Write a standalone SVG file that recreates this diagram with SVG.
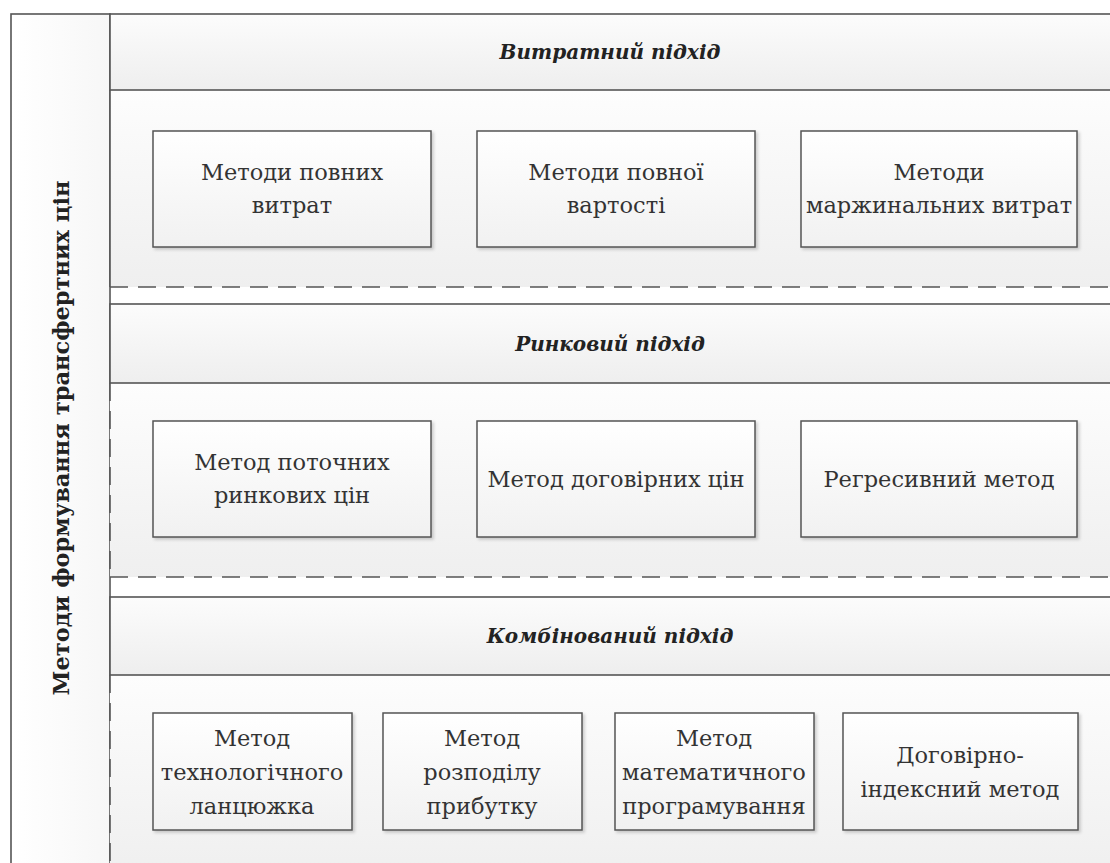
<svg xmlns="http://www.w3.org/2000/svg" width="1110" height="863" viewBox="0 0 1110 863">
  <defs>
    <linearGradient id="gHead" x1="0" y1="0" x2="0" y2="1">
      <stop offset="0" stop-color="#fcfcfc"/>
      <stop offset="1" stop-color="#eeeeee"/>
    </linearGradient>
    <linearGradient id="gBody" x1="0" y1="0" x2="0" y2="1">
      <stop offset="0" stop-color="#fdfdfd"/>
      <stop offset="1" stop-color="#efefef"/>
    </linearGradient>
    <linearGradient id="gBox" x1="0" y1="0" x2="0" y2="1">
      <stop offset="0" stop-color="#ffffff"/>
      <stop offset="1" stop-color="#f1f1f1"/>
    </linearGradient>
    <linearGradient id="gSide" x1="0" y1="0" x2="1" y2="0">
      <stop offset="0" stop-color="#ffffff"/>
      <stop offset="1" stop-color="#f7f7f7"/>
    </linearGradient>
    <filter id="shadow" x="-5%" y="-5%" width="115%" height="120%">
      <feDropShadow dx="2" dy="2" stdDeviation="1.5" flood-color="#000" flood-opacity="0.18"/>
    </filter>
  </defs>
  <style>
    .frame { stroke: #555; stroke-width: 1.6; }
    .dash { stroke: #555; stroke-width: 1.6; stroke-dasharray: 18 10; fill: none; }
    .box { fill: url(#gBox); stroke: #555; stroke-width: 1.5; filter: url(#shadow); }
    text { font-family: 'DejaVu Serif', serif; }
    .hdr { font-weight: bold; font-style: italic; font-size: 20px; fill: #222; text-anchor: middle; }
    .lbl { font-size: 22.5px; fill: #333; text-anchor: middle; }
    .side { font-weight: bold; font-size: 22.5px; fill: #222; text-anchor: middle; }
  </style>

  <rect width="1110" height="863" fill="#ffffff"/>

  <!-- left title column -->
  <g id="side-title">
    <rect x="11" y="14" width="99" height="860" fill="url(#gSide)" class="frame"/>
    <text class="side" transform="translate(69,438) rotate(-90)">Методи формування трансфертних цін</text>
  </g>

  <!-- cost-based approach -->
  <g id="band-cost">
    <rect x="110" y="90" width="1010" height="197" fill="url(#gBody)"/>
    <line x1="110" y1="90" x2="110" y2="287" class="frame"/>
    <line x1="110" y1="287" x2="1110" y2="287" class="dash"/>
    <rect x="110" y="14" width="1010" height="76" fill="url(#gHead)" class="frame"/>
    <text class="hdr" x="610" y="59">Витратний підхід</text>
  </g>
  <g id="cost-full">
    <rect class="box" x="153" y="131" width="278" height="116"/>
    <text class="lbl" x="292" y="180">Методи повних</text>
    <text class="lbl" x="292" y="213">витрат</text>
  </g>
  <g id="cost-total">
    <rect class="box" x="477" y="131" width="278" height="116"/>
    <text class="lbl" x="616" y="180">Методи повної</text>
    <text class="lbl" x="616" y="213">вартості</text>
  </g>
  <g id="cost-marginal">
    <rect class="box" x="801" y="131" width="276" height="116"/>
    <text class="lbl" x="939" y="180">Методи</text>
    <text class="lbl" x="939" y="213">маржинальних витрат</text>
  </g>

  <!-- market approach -->
  <g id="band-market">
    <rect x="110" y="383" width="1010" height="194" fill="url(#gBody)"/>
    <line x1="110" y1="383" x2="110" y2="577" class="dash"/>
    <line x1="110" y1="577" x2="1110" y2="577" class="dash"/>
    <rect x="110" y="304" width="1010" height="79" fill="url(#gHead)" class="frame"/>
    <text class="hdr" x="610" y="351">Ринковий підхід</text>
  </g>
  <g id="market-current">
    <rect class="box" x="153" y="421" width="278" height="116"/>
    <text class="lbl" x="292" y="470">Метод поточних</text>
    <text class="lbl" x="292" y="503">ринкових цін</text>
  </g>
  <g id="market-contract">
    <rect class="box" x="477" y="421" width="278" height="116"/>
    <text class="lbl" x="616" y="487">Метод договірних цін</text>
  </g>
  <g id="market-regressive">
    <rect class="box" x="801" y="421" width="276" height="116"/>
    <text class="lbl" x="939" y="487">Регресивний метод</text>
  </g>

  <!-- combined approach -->
  <g id="band-combined">
    <rect x="110" y="675" width="1010" height="200" fill="url(#gBody)"/>
    <line x1="110" y1="675" x2="110" y2="863" class="dash"/>
    <rect x="110" y="597" width="1010" height="78" fill="url(#gHead)" class="frame"/>
    <text class="hdr" x="610" y="643">Комбінований підхід</text>
  </g>
  <g id="comb-chain">
    <rect class="box" x="153" y="713" width="199" height="117"/>
    <text class="lbl" x="252" y="746">Метод</text>
    <text class="lbl" x="252" y="780">технологічного</text>
    <text class="lbl" x="252" y="814">ланцюжка</text>
  </g>
  <g id="comb-profit">
    <rect class="box" x="383" y="713" width="199" height="117"/>
    <text class="lbl" x="482" y="746">Метод</text>
    <text class="lbl" x="482" y="780">розподілу</text>
    <text class="lbl" x="482" y="814">прибутку</text>
  </g>
  <g id="comb-math">
    <rect class="box" x="615" y="713" width="199" height="117"/>
    <text class="lbl" x="714" y="746">Метод</text>
    <text class="lbl" x="714" y="780">математичного</text>
    <text class="lbl" x="714" y="814">програмування</text>
  </g>
  <g id="comb-index">
    <rect class="box" x="843" y="713" width="235" height="117"/>
    <text class="lbl" x="960" y="763">Договірно-</text>
    <text class="lbl" x="960" y="797">індексний метод</text>
  </g>
</svg>
